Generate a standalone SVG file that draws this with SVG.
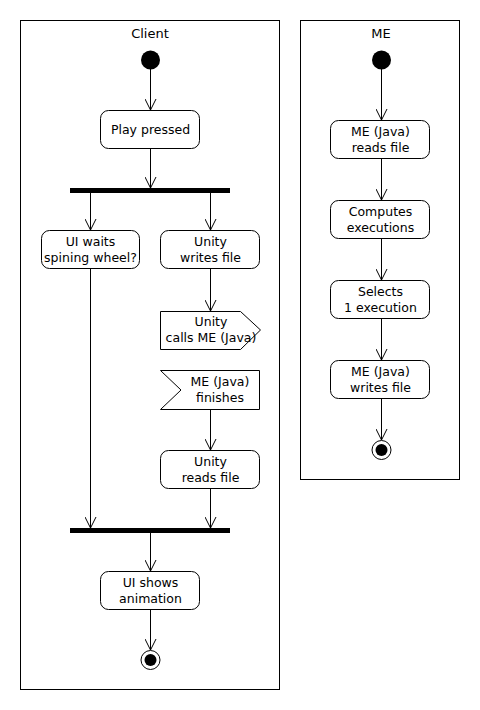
<svg xmlns="http://www.w3.org/2000/svg" width="480" height="710" viewBox="0 0 480 710">
<style>
.frame{fill:#fff;stroke:#000;stroke-width:1}
.act{fill:#fff;stroke:#000;stroke-width:1}
.bar{fill:#000}
.t{font-family:"DejaVu Sans","Noto Sans",sans-serif;font-size:12.5px;fill:#000;text-anchor:middle}
.title{font-family:"DejaVu Sans","Noto Sans",sans-serif;font-size:13px;fill:#000;text-anchor:middle}
.c{fill:none;stroke:#000;stroke-width:1;marker-end:url(#arr)}
</style>
<defs>
<marker id="arr" viewBox="0 0 12 12" refX="11" refY="6" markerWidth="12" markerHeight="12" markerUnits="userSpaceOnUse" orient="auto">
<path d="M0,0.5 L11,6 L0,11.5" fill="none" stroke="#000" stroke-width="1"/>
</marker>
</defs>
<rect width="480" height="710" fill="#fff"/>
<g id="client-frame">
<rect class="frame" x="20.5" y="20.5" width="259" height="669"/>
<text class="title" x="150" y="38">Client</text>
</g>
<g id="me-frame">
<rect class="frame" x="300.5" y="20.5" width="159" height="459"/>
<text class="title" x="381" y="38">ME</text>
</g>
<g id="connectors">
<line class="c" x1="150.5" y1="69" x2="150.5" y2="110"/>
<line class="c" x1="150.5" y1="149" x2="150.5" y2="188"/>
<line class="c" x1="90.5" y1="193" x2="90.5" y2="230"/>
<line class="c" x1="210.5" y1="193" x2="210.5" y2="230"/>
<line class="c" x1="210.5" y1="268" x2="210.5" y2="311"/>
<line class="c" x1="210.5" y1="409" x2="210.5" y2="450"/>
<line class="c" x1="90.5" y1="268" x2="90.5" y2="528"/>
<line class="c" x1="210.5" y1="489" x2="210.5" y2="528"/>
<line class="c" x1="150.5" y1="533" x2="150.5" y2="571"/>
<line class="c" x1="150.5" y1="609" x2="150.5" y2="650"/>
<line class="c" x1="381.5" y1="69" x2="381.5" y2="120"/>
<line class="c" x1="381.5" y1="159" x2="381.5" y2="200"/>
<line class="c" x1="381.5" y1="239" x2="381.5" y2="280"/>
<line class="c" x1="381.5" y1="319" x2="381.5" y2="360"/>
<line class="c" x1="381.5" y1="399" x2="381.5" y2="440"/>
</g>
<g id="client-start"><circle cx="150.5" cy="60" r="9.5" fill="#000"/></g>
<g id="play-pressed">
<rect class="act" x="100.5" y="110.5" width="99" height="38" rx="8"/>
<text class="t" x="150.5" y="134">Play pressed</text>
</g>
<g id="fork"><rect class="bar" x="70" y="188" width="160" height="5"/></g>
<g id="ui-waits">
<rect class="act" x="41.5" y="230.5" width="98" height="38" rx="8"/>
<text class="t" x="90.5" y="246">UI waits</text>
<text class="t" x="90.5" y="262">spining wheel?</text>
</g>
<g id="unity-writes">
<rect class="act" x="160.5" y="230.5" width="99" height="38" rx="8"/>
<text class="t" x="210.5" y="246">Unity</text>
<text class="t" x="210.5" y="262">writes file</text>
</g>
<g id="unity-calls">
<path class="act" d="M160.5,311.5 H240.5 L260.5,330 L240.5,349.5 H160.5 Z"/>
<text class="t" x="211" y="326">Unity</text>
<text class="t" x="211" y="342">calls ME (Java)</text>
</g>
<g id="me-finishes">
<path class="act" d="M160.5,370.5 H259.5 V409.5 H160.5 L181,390 Z"/>
<text class="t" x="220" y="386">ME (Java)</text>
<text class="t" x="220" y="402">finishes</text>
</g>
<g id="unity-reads">
<rect class="act" x="160.5" y="450.5" width="99" height="38" rx="8"/>
<text class="t" x="210.5" y="466">Unity</text>
<text class="t" x="210.5" y="482">reads file</text>
</g>
<g id="join"><rect class="bar" x="70" y="528" width="160" height="5"/></g>
<g id="ui-shows">
<rect class="act" x="100.5" y="571.5" width="99" height="38" rx="8"/>
<text class="t" x="150.5" y="587">UI shows</text>
<text class="t" x="150.5" y="603">animation</text>
</g>
<g id="client-end">
<circle cx="150.5" cy="660" r="9.5" fill="#fff" stroke="#000"/>
<circle cx="150.5" cy="660" r="6" fill="#000"/>
</g>
<g id="me-start"><circle cx="381.5" cy="60" r="9.5" fill="#000"/></g>
<g id="me-reads">
<rect class="act" x="330.5" y="120.5" width="99" height="38" rx="8"/>
<text class="t" x="380.5" y="136">ME (Java)</text>
<text class="t" x="380.5" y="152">reads file</text>
</g>
<g id="computes">
<rect class="act" x="330.5" y="200.5" width="99" height="38" rx="8"/>
<text class="t" x="380.5" y="216">Computes</text>
<text class="t" x="380.5" y="232">executions</text>
</g>
<g id="selects">
<rect class="act" x="330.5" y="280.5" width="99" height="38" rx="8"/>
<text class="t" x="380.5" y="296">Selects</text>
<text class="t" x="380.5" y="312">1 execution</text>
</g>
<g id="me-writes">
<rect class="act" x="330.5" y="360.5" width="99" height="38" rx="8"/>
<text class="t" x="380.5" y="376">ME (Java)</text>
<text class="t" x="380.5" y="392">writes file</text>
</g>
<g id="me-end">
<circle cx="381.5" cy="450" r="9.5" fill="#fff" stroke="#000"/>
<circle cx="381.5" cy="450" r="6" fill="#000"/>
</g>
</svg>
